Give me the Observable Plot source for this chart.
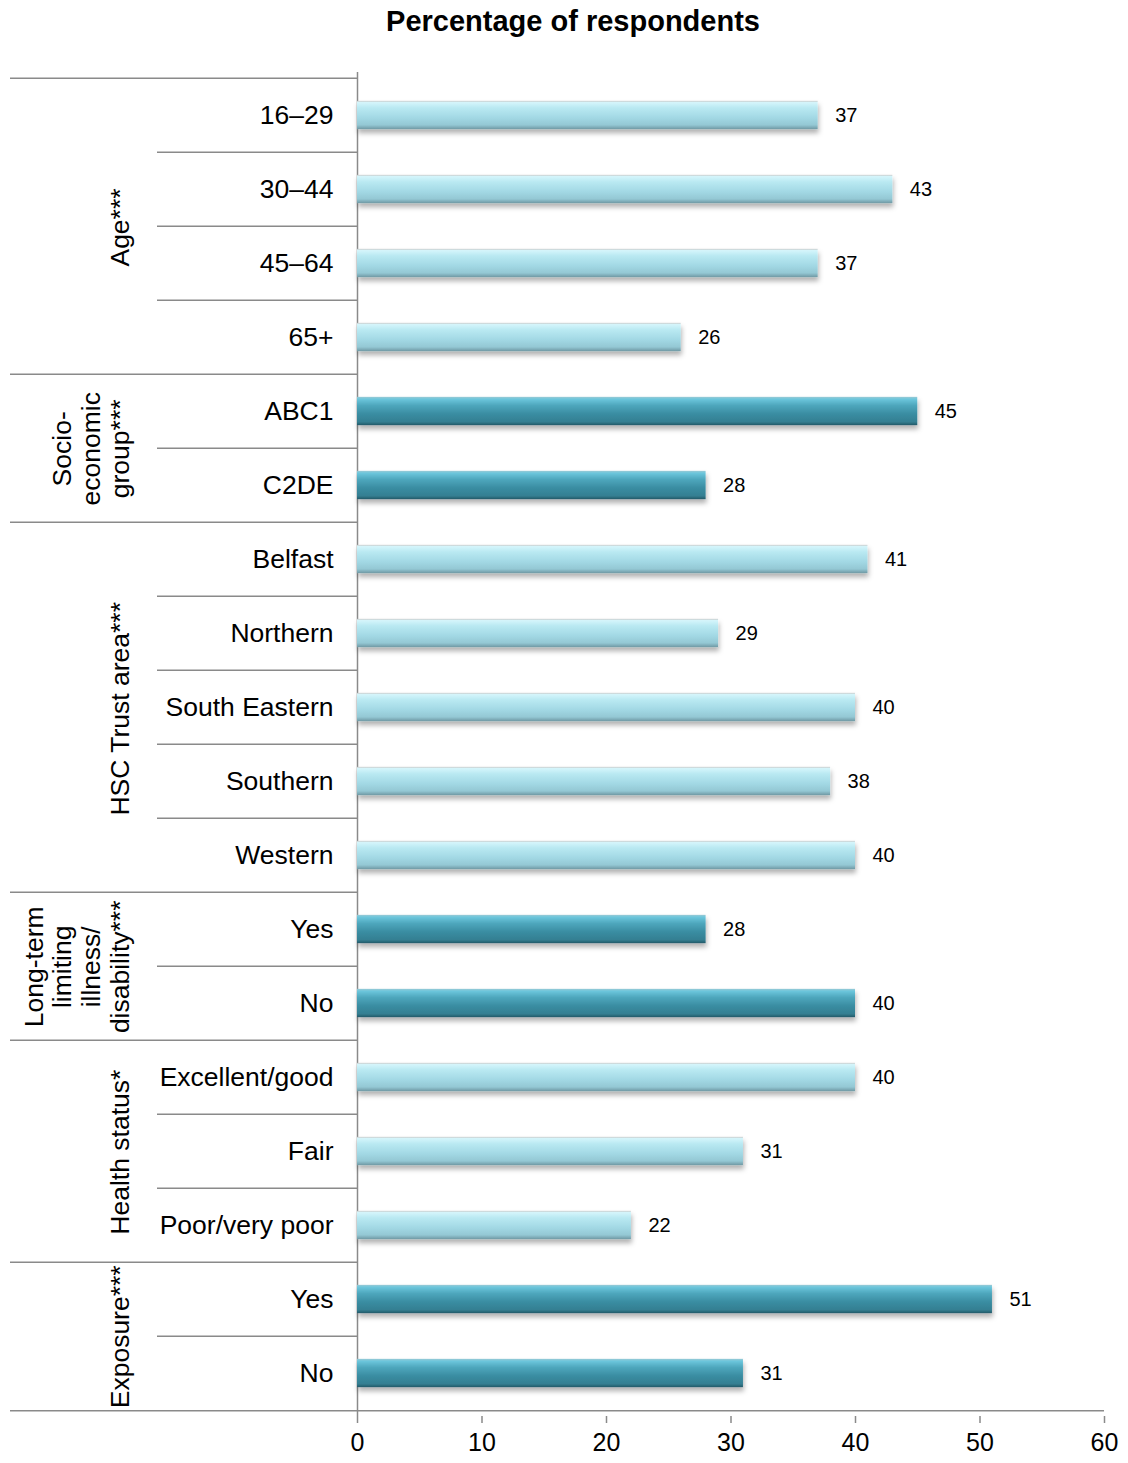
<!DOCTYPE html>
<html>
<head>
<meta charset="utf-8">
<script src="https://cdn.jsdelivr.net/npm/d3@7"></script>
<script src="https://cdn.jsdelivr.net/npm/@observablehq/plot@0.6"></script>
<style>
  body { margin: 0; background: #fff; font-family: "Liberation Sans", Arial, sans-serif; }
  #wrap { position: relative; width: 1128px; }
  #title { height: 45px; position: relative; }
  #title span { position: absolute; left: 573px; top: 5px; transform: translateX(-50%); font-weight: bold; font-size: 29px; white-space: nowrap; color: #000; }
  #chart svg { display: block; }
</style>
</head>
<body>
<div id="wrap">
  <div id="title"><span>Percentage of respondents</span></div>
  <div id="chart"></div>
</div>
<script>
// ---- data ----
const categories = ["16–29","30–44","45–64","65+","ABC1","C2DE","Belfast","Northern","South Eastern","Southern","Western","Yes","No","Excellent/good","Fair","Poor/very poor","Yes","No"];
const values = [37,43,37,26,45,28,41,29,40,38,40,28,40,40,31,22,51,31];
const groupNames = ["Age***","Socio-\neconomic\ngroup***","HSC Trust area***","Long-term\nlimiting\nillness/\ndisability***","Health status*","Exposure***"];
const groupSizes = [4,2,5,2,3,2];
const groupDark = [false,true,false,true,false,true];
const xTicks = [0,10,20,30,40,50,60];

// ---- build table ----
const rows = [];
let k = 0;
groupNames.forEach((g, gi) => {
  for (let j = 0; j < groupSizes[gi]; j++, k++) {
    rows.push({key: String(k), label: categories[k], value: values[k], group: gi, dark: groupDark[gi], first: j === 0});
  }
});
const keys = rows.map(d => d.key);
const innerRows = rows.filter(d => !d.first);
const groupStartRows = rows.filter(d => d.first);

// ---- layout ----
const W = 1128, H = 1418;
const mL = 357, mR = 24, mT = 27, mB = 47;
const step = (H - mT - mB) / keys.length;
const barH = 29;
const inset = (step - barH) / 2;
const frameW = W - mL - mR;

const plot = Plot.plot({
  width: W, height: H,
  marginLeft: mL, marginRight: mR, marginTop: mT, marginBottom: mB,
  style: {fontFamily: "'Liberation Sans', Arial, sans-serif", fontSize: "26px", color: "#000", background: "#fff"},
  x: {domain: [0, 60], axis: null, label: null},
  y: {domain: keys, padding: 0, axis: null, label: null},
  marks: [
    Plot.ruleY(innerRows, {y: "key", dy: -step/2, stroke: "#8a8a8a", strokeWidth: 1.5, insetLeft: -(mL - 157), insetRight: frameW}),
    Plot.ruleY(groupStartRows, {y: "key", dy: -step/2, stroke: "#8a8a8a", strokeWidth: 1.5, insetLeft: -(mL - 10), insetRight: frameW}),
    Plot.ruleY([keys[keys.length - 1]], {dy: step/2, stroke: "#8a8a8a", strokeWidth: 1.5, insetLeft: -(mL - 10)}),
    Plot.ruleX([0], {stroke: "#8a8a8a", strokeWidth: 1.5}),
    Plot.barX(rows.filter(d => !d.dark), {y: "key", x: "value", fill: "url(#gLight)", insetTop: inset, insetBottom: inset}),
    Plot.barX(rows.filter(d => d.dark), {y: "key", x: "value", fill: "url(#gDark)", insetTop: inset, insetBottom: inset}),
    Plot.text(rows, {y: "key", x: "value", text: d => String(d.value), dx: 17, textAnchor: "start", fontSize: 20, fill: "#000"}),
    Plot.text(rows, {y: "key", frameAnchor: "left", text: "label", dx: -24, textAnchor: "end", fontSize: 26.5, fill: "#000"}),
    ...groupStartRows.map(d => Plot.text([groupNames[d.group]], {
      y: [d.key], text: t => t, frameAnchor: "left", dx: 128 - mL, dy: (groupSizes[d.group] - 1) / 2 * step,
      rotate: -90, lineAnchor: "bottom", lineHeight: 1.08, textAnchor: "middle", fontSize: 26.5, fill: "#000"
    })),
    Plot.axisX(xTicks, {anchor: "bottom", label: null, tickSize: 7, tickPadding: 10, stroke: "#8a8a8a", strokeWidth: 1.5, fill: "#000", fontSize: 25, tickFormat: d => String(d)})
  ]
});

const defs = `
<defs>
  <linearGradient id="gLight" x1="0" y1="0" x2="0" y2="1">
    <stop offset="0" stop-color="#c9c9c9"/>
    <stop offset="0.06" stop-color="#d4f5fb"/>
    <stop offset="0.25" stop-color="#b9e9f2"/>
    <stop offset="0.6" stop-color="#a2d8e4"/>
    <stop offset="0.85" stop-color="#94c8d4"/>
    <stop offset="1" stop-color="#6f98a3"/>
  </linearGradient>
  <linearGradient id="gDark" x1="0" y1="0" x2="0" y2="1">
    <stop offset="0" stop-color="#9ac9d4"/>
    <stop offset="0.08" stop-color="#6cc6dc"/>
    <stop offset="0.3" stop-color="#4ea7bd"/>
    <stop offset="0.6" stop-color="#3a8da2"/>
    <stop offset="0.88" stop-color="#347f92"/>
    <stop offset="1" stop-color="#245a68"/>
  </linearGradient>
  <filter id="shadow" x="-5%" y="-30%" width="110%" height="180%">
    <feDropShadow dx="1" dy="4" stdDeviation="2.5" flood-color="#000" flood-opacity="0.3"/>
  </filter>
</defs>`;
plot.insertAdjacentHTML("afterbegin", defs);
plot.querySelectorAll("g[aria-label='bar'] rect").forEach(r => r.setAttribute("filter", "url(#shadow)"));
document.getElementById("chart").appendChild(plot);
</script>
</body>
</html>
